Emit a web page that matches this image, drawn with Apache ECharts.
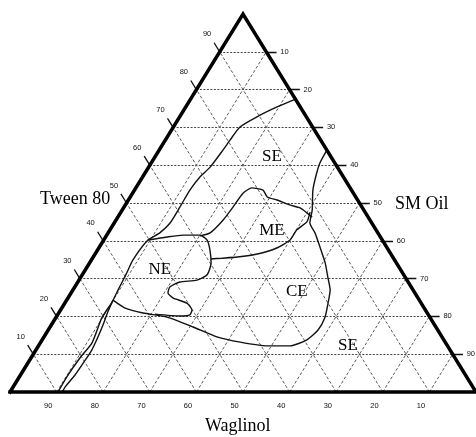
<!DOCTYPE html>
<html>
<head>
<meta charset="utf-8">
<script src="https://cdn.jsdelivr.net/npm/echarts@6/dist/echarts.min.js"></script>
<style>
html, body { margin: 0; padding: 0; background: #fff; }
#chart { width: 476px; height: 437px; }
</style>
</head>
<body>
<div id="chart"></div>
<script>
// every point below is [Tween 80 %, SM Oil %], Waglinol makes up the rest
const ticks = [10, 20, 30, 40, 50, 60, 70, 80, 90];
const tweenTicks = ['10', '20', '30', '40', '50', '60', '70', '80', '90'];
const oilTicks = ['10', '20', '30', '40', '50', '60', '70', '80', '90'];
const waglinolTicks = ['90', '80', '70', '60', '50', '40', '30', '20', '10'];

// long boundary from the oil side down to the waglinol base
const curveA = [[77.5, 22.5], [75.4, 19.6], [72.8, 16.6], [70.1, 14.3], [66.7, 13.9], [64.0, 13.7],
  [59.5, 13.2], [56.9, 12.3], [53.4, 11.9], [48.9, 12.0], [44.7, 12.0], [42.1, 11.1], [40.2, 9.5],
  [34.9, 8.9], [31.5, 9.3], [27.0, 9.7], [23.8, 10.0], [19.6, 9.9], [13.0, 11.1], [9.0, 10.5],
  [4.0, 10.2], [0, 10.3]];
// second line next to it
const curveLeft = [[24.3, 9.95], [21.2, 10.4], [17.7, 11.1], [14.6, 11.6], [11.1, 12.0], [7.9, 11.9],
  [4.5, 11.7], [1.6, 11.2], [0, 11.2]];
// right boundary going round the CE region
const curveCE = [[64.0, 36.0], [60.6, 36.2], [57.4, 37.0], [53.4, 38.3], [48.1, 40.8], [44.7, 42.0],
  [42.1, 44.4], [38.4, 47.3], [34.1, 50.6], [30.4, 53.0], [27.0, 55.2], [23.5, 56.5], [19.8, 57.7],
  [16.4, 57.9], [13.8, 56.8], [12.2, 54.0], [12.2, 49.1], [13.2, 42.8], [14.6, 37.1], [17.2, 30.7],
  [19.8, 23.8], [20.9, 18.1], [22.2, 13.6], [24.3, 9.95]];
// NE loop
const loopNE = [[40.2, 9.5], [41.0, 13.2], [41.5, 16.4], [41.5, 20.0], [40.2, 22.2], [37.6, 24.1],
  [34.1, 26.1], [31.0, 26.8], [29.6, 25.3], [29.1, 21.9], [27.8, 20.4], [26.2, 20.8], [24.9, 22.5],
  [23.5, 26.2], [21.7, 28.2], [20.4, 28.4], [20.1, 26.4], [20.6, 20.8]];
// ME region
const meTop = [[41.3, 20.1], [42.1, 21.9], [45.5, 23.0], [48.9, 23.4], [52.6, 23.7], [54.0, 24.9],
  [53.4, 27.6], [51.6, 29.4], [50.8, 31.9], [49.5, 35.3], [48.7, 37.9], [47.4, 40.0], [46.3, 41.7]];
const meBottom = [[47.6, 40.6], [45.0, 41.2], [42.9, 40.1], [40.2, 40.0], [38.1, 38.2], [36.5, 34.8],
  [35.7, 30.9], [35.4, 27.8], [35.2, 25.5]];

const regionNames = ['SE', 'ME', 'NE', 'CE', 'SE'];
const regionAt = [[62.2, 25.1], [42.6, 34.9], [32.5, 15.9], [26.5, 48.3], [12.2, 66.4]];

// ternary -> plane (x from 0 to 100 along the base, y = Tween)
function toXY(p) {
  return [p[1] + p[0] / 2, p[0]];
}
function seg(a, b) {
  return { coords: [toXY(a), toXY(b)] };
}

let hGrid = [], dGrid = [], tickSegs = [], tickLabels = [];
ticks.forEach((k, i) => {
  hGrid.push(seg([k, 0], [k, 100 - k]));
  dGrid.push(seg([0, k], [100 - k, k]));
  dGrid.push(seg([0, 100 - k], [100 - k, 0]));
  // left side
  tickSegs.push(seg([k, 0], [k + 2.4, -2.4]));
  tickLabels.push({ name: tweenTicks[i], value: toXY([k + 4.6, -5.0]) });
  // right side
  tickSegs.push(seg([100 - k, k], [100 - k, k + 2.2]));
  tickLabels.push({ name: oilTicks[i], value: toXY([100 - k, k + 3.9]) });
  // base
  tickSegs.push(seg([0, k], [-1.6, k]));
  tickLabels.push({ name: waglinolTicks[i], value: toXY([-3.6, k]) });
});

function curve(pts) {
  return {
    type: 'line',
    data: pts.map(toXY),
    showSymbol: false,
    smooth: 0.2,
    clip: false,
    silent: true,
    lineStyle: { color: '#111', width: 1.4 },
    z: 4
  };
}

const chart = echarts.init(document.getElementById('chart'));
chart.setOption({
  animation: false,
  grid: { left: 10, right: 0, top: 14, bottom: 45 },
  xAxis: { type: 'value', min: 0, max: 100, show: false },
  yAxis: { type: 'value', min: 0, max: 100, show: false },
  graphic: [
    { type: 'text', left: 40, top: 190, style: { text: 'Tween 80', font: '18px "Liberation Serif"', fill: '#000' } },
    { type: 'text', left: 395, top: 195, style: { text: 'SM Oil', font: '18px "Liberation Serif"', fill: '#000' } },
    { type: 'text', left: 205, top: 417, style: { text: 'Waglinol', font: '18px "Liberation Serif"', fill: '#000' } }
  ],
  series: [
    {
      type: 'lines', coordinateSystem: 'cartesian2d', silent: true, z: 1,
      data: hGrid,
      lineStyle: { color: '#444', width: 1, type: [2, 1.5], opacity: 1 }
    },
    {
      type: 'lines', coordinateSystem: 'cartesian2d', silent: true, z: 1,
      data: dGrid,
      lineStyle: { color: '#5a5a5a', width: 1, type: [3, 2], opacity: 1 }
    },
    {
      type: 'lines', coordinateSystem: 'cartesian2d', silent: true, z: 2,
      data: tickSegs,
      lineStyle: { color: '#111', width: 1.3, opacity: 1 }
    },
    {
      type: 'line', silent: true, clip: false, showSymbol: false, z: 5,
      data: [[0, 0], [50, 100], [100, 0], [0, 0]],
      lineStyle: { color: '#000', width: 3.5, join: 'miter', cap: 'square' }
    },
    curve(curveA),
    curve(curveLeft),
    curve(curveCE),
    curve(loopNE),
    curve(meTop),
    curve(meBottom),
    {
      type: 'scatter', symbolSize: 0, silent: true, clip: false, z: 6,
      itemStyle: { opacity: 1 },
      data: tickLabels,
      label: {
        show: true, position: 'inside', formatter: '{b}',
        fontSize: 7.5, fontFamily: 'Liberation Sans', color: '#111', textBorderWidth: 0
      }
    },
    {
      type: 'scatter', symbolSize: 0, silent: true, clip: false, z: 6,
      itemStyle: { opacity: 1 },
      data: regionNames.map((n, i) => ({ name: n, value: toXY(regionAt[i]) })),
      label: {
        show: true, position: 'inside', formatter: '{b}',
        fontSize: 17, fontFamily: 'Liberation Serif', color: '#000', textBorderWidth: 0
      }
    }
  ]
});
</script>
</body>
</html>
